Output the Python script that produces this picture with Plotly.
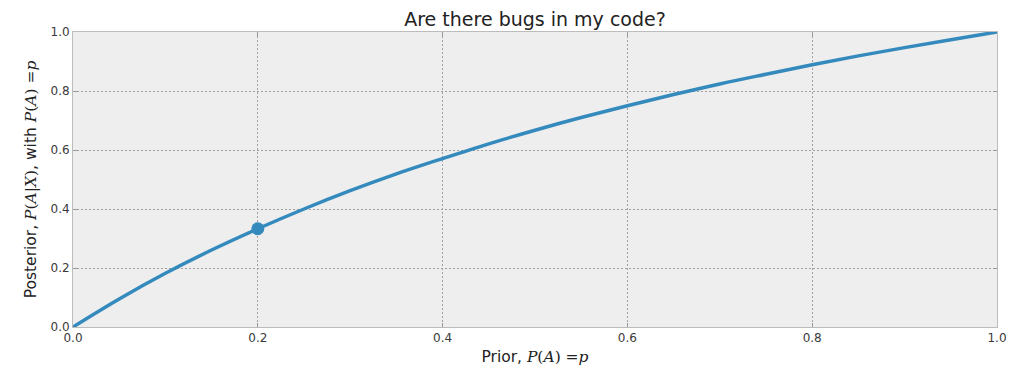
import plotly.graph_objects as go

prior = [0.0, 0.05, 0.1, 0.15, 0.2, 0.25, 0.3, 0.35, 0.4, 0.45, 0.5,
         0.55, 0.6, 0.65, 0.7, 0.75, 0.8, 0.85, 0.9, 0.95, 1.0]
posterior = [0.0, 0.095, 0.182, 0.261, 0.333, 0.400, 0.462, 0.519, 0.571, 0.621, 0.667,
             0.710, 0.750, 0.788, 0.824, 0.857, 0.889, 0.919, 0.947, 0.974, 1.0]
point_x = [0.2]
point_y = [0.333]
tick_vals = [0.0, 0.2, 0.4, 0.6, 0.8, 1.0]
tick_text = ["0.0", "0.2", "0.4", "0.6", "0.8", "1.0"]

color = "#348ABD"
mfont = "font-family:'DejaVu Serif',serif"

fig = go.Figure()
fig.add_trace(go.Scatter(x=prior, y=posterior, mode="lines",
                         line=dict(color=color, width=3.5, shape="spline"),
                         showlegend=False, hoverinfo="skip"))
fig.add_trace(go.Scatter(x=point_x, y=point_y, mode="markers",
                         marker=dict(color=color, size=13),
                         showlegend=False))

axis_common = dict(
    range=[0, 1], tickvals=tick_vals, ticktext=tick_text, automargin=False,
    showgrid=True, gridcolor="#a0a0a0", griddash="2px,2px", gridwidth=1,
    zeroline=False, showline=True, linecolor="#bcbcbc", linewidth=1, mirror="ticks",
    ticks="inside", ticklen=4, tickcolor="#999999",
    tickfont=dict(family="DejaVu Sans", size=12, color="#3a3a3a"),
)

fig.update_xaxes(**axis_common,
                 title=dict(text=f"Prior, <span style=\"{mfont}\"><i>P</i>(<i>A</i>) =<i>p</i></span>",
                            font=dict(family="DejaVu Sans", size=15.5, color="#222222"), standoff=6))
fig.update_yaxes(**axis_common,
                 title=dict(text=f"Posterior, <span style=\"{mfont}\"><i>P</i>(<i>A</i>|<i>X</i>)</span>, with <span style=\"{mfont}\"><i>P</i>(<i>A</i>) =<i>p</i></span>",
                            font=dict(family="DejaVu Sans", size=15.5, color="#222222"), standoff=10))

fig.update_layout(
    width=1015, height=374,
    margin=dict(l=65, r=26, t=24, b=55),
    plot_bgcolor="#EEEEEE", paper_bgcolor="white",
    title=dict(text="Are there bugs in my code?", x=0.5, xref="paper", xanchor="center",
               y=1 - 11 / 374, yref="container", yanchor="middle", automargin=False,
               font=dict(family="DejaVu Sans", size=19, color="#222222")),
)

fig.write_html("out.html")
